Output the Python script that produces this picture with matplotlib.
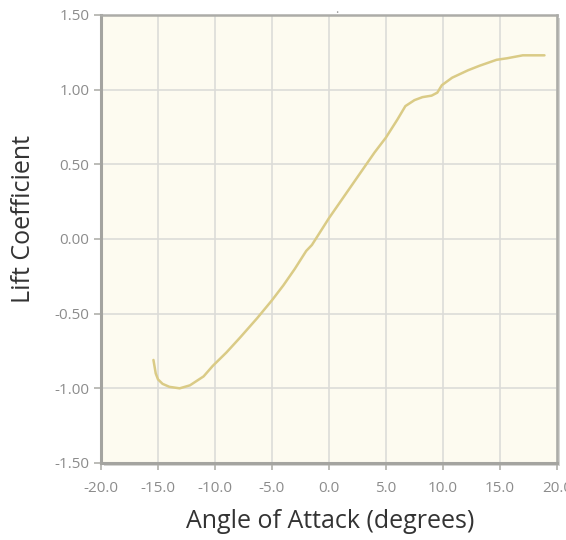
import numpy as np
import matplotlib.pyplot as plt
from matplotlib.patches import Rectangle

# ============================================================================
# Data
# ============================================================================
alpha = [-15.4, -15.2, -15.0, -14.6, -14.0, -13.1, -12.2, -11.0, -10.2, -9.0,
         -7.8, -6.3, -5.0, -4.0, -3.0, -2.0, -1.5, -1.0, 0.0, 1.0,
         2.0, 3.0, 4.0, 5.0, 6.0, 6.7, 7.5, 8.2, 9.0, 9.5,
         9.9, 10.8, 12.2, 13.2, 14.7, 15.6, 17.0, 18.9]
cl = [-0.81, -0.90, -0.94, -0.97, -0.99, -1.00, -0.98, -0.92, -0.85, -0.76,
      -0.66, -0.53, -0.41, -0.31, -0.20, -0.08, -0.04, 0.02, 0.14, 0.25,
      0.36, 0.47, 0.58, 0.68, 0.80, 0.89, 0.93, 0.95, 0.96, 0.98,
      1.03, 1.08, 1.13, 1.16, 1.20, 1.21, 1.23, 1.23]

x_ticks = [-20.0, -15.0, -10.0, -5.0, 0.0, 5.0, 10.0, 15.0, 20.0]
y_ticks = [-1.5, -1.0, -0.5, 0.0, 0.5, 1.0, 1.5]

# ============================================================================
# Plot
# ============================================================================
plt.rcParams["font.family"] = ["Open Sans", "DejaVu Sans"]

W, H = 566, 540
fig = plt.figure(figsize=(W / 100, H / 100), dpi=100)

# axes box in pixels
x0, x1, y0, y1 = 101, 557, 15, 463
ax = fig.add_axes([x0 / W, (H - y1) / H, (x1 - x0) / W, (y1 - y0) / H])
ax.set_facecolor("#fdfbf0")

# soft drop shadow on the right/bottom of the frame
fig.patches.append(Rectangle(((x0 + 3) / W, (H - y1 - 3) / H), (x1 - x0) / W, (y1 - y0) / H,
                             transform=fig.transFigure, facecolor="#d6d6d4",
                             edgecolor="none", zorder=-5))

ax.plot(alpha, cl, color="#dacb86", linewidth=1.8, solid_capstyle="round")

ax.set_xlim(-20, 20)
ax.set_ylim(-1.5, 1.5)
ax.set_xticks(x_ticks)
ax.set_yticks(y_ticks)
ax.set_xticklabels([f"{v:.1f}" for v in x_ticks])
ax.set_yticklabels([f"{v:.2f}" for v in y_ticks])

ax.grid(True, color="#dcdcd8", linewidth=1.2)
ax.set_axisbelow(True)

for side in ["left", "bottom"]:
    ax.spines[side].set_color("#a4a4a0")
    ax.spines[side].set_linewidth(2.2)
for side in ["right", "top"]:
    ax.spines[side].set_color("#acaca8")
    ax.spines[side].set_linewidth(1.8)

ax.tick_params(axis="both", colors="#b0b0ac", length=5, width=1.2,
               labelcolor="#8c8c8c", labelsize=11)
ax.tick_params(axis="x", pad=8)
ax.tick_params(axis="y", pad=3.5)

ax.set_xlabel("Angle of Attack (degrees)", fontsize=18, color="#333333")
ax.set_ylabel("Lift Coefficient", fontsize=18, color="#333333")
ax.xaxis.set_label_coords(0.502, -0.103)
ax.yaxis.set_label_coords(-0.142, 0.545)

# stray dot above the frame
fig.text(337 / W, 1 - 13 / H, ".", color="#999999", fontsize=9, ha="center")

plt.savefig("out.png", dpi=100)
plt.close()
